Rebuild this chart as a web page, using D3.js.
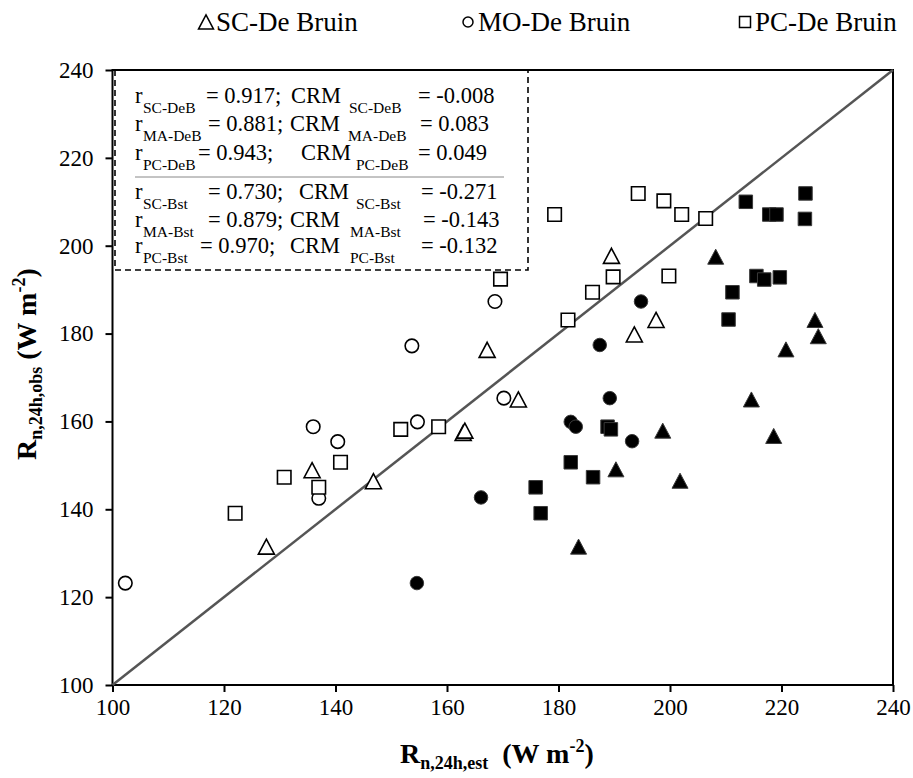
<!DOCTYPE html>
<html>
<head>
<meta charset="utf-8">
<script src="https://cdn.jsdelivr.net/npm/d3@7"></script>
<style>
  html, body { margin: 0; padding: 0; background: #fff; }
  svg { display: block; }
  text { font-family: "Liberation Serif", "Times New Roman", serif; fill: #000; }
  .tick text { font-size: 23px; }
  .tick line { stroke: #000; stroke-width: 2px; }
  .domain { display: none; }
</style>
</head>
<body>
<svg id="chart" width="913" height="778"></svg>
<script>
var scDeB = [[127.6,131.5],[135.8,148.9],[146.8,146.4],[162.9,157.4],[163.2,157.9],
             [167.2,176.3],[172.8,165.0],[189.5,197.7],[193.6,179.8],[197.5,183.1]];
var scBst = [[183.6,131.5],[190.3,149.1],[198.7,157.9],[201.8,146.5],[208.2,197.5],
             [214.6,165.0],[218.6,156.7],[220.8,176.4],[226.0,183.1],[226.6,179.4]];
var moDeB = [[102.3,123.2],[136.0,158.8],[137.0,142.5],[140.4,155.4],[153.7,177.2],
             [154.7,159.9],[168.6,187.3],[170.2,165.3]];
var moBst = [[154.6,123.2],[166.1,142.7],[182.2,159.9],[183.1,158.8],[187.4,177.4],
             [189.2,165.3],[193.2,155.5],[194.8,187.3]];
var pcDeB = [[122.0,139.1],[130.8,147.3],[137.0,145.0],[140.9,150.7],[151.7,158.2],
             [158.5,158.8],[169.6,192.4],[179.3,207.1],[181.7,183.1],[186.1,189.4],
             [189.8,192.9],[194.3,211.9],[198.9,210.2],[199.8,193.1],[202.1,207.1],[206.4,206.2]];
var pcBst = [[175.9,145.0],[176.8,139.1],[182.2,150.7],[186.2,147.3],[188.8,158.8],
             [189.4,158.2],[210.5,183.2],[211.2,189.4],[213.6,210.0],[215.5,193.1],
             [216.9,192.3],[217.8,207.1],[219.1,207.1],[219.7,192.8],[224.2,206.1],[224.3,211.9]];

var ticks = [100, 120, 140, 160, 180, 200, 220, 240];
var legendNames = ["SC-De Bruin", "MO-De Bruin", "PC-De Bruin"];

var rSubs = ["SC-DeB", "MA-DeB", "PC-DeB", "SC-Bst", "MA-Bst", "PC-Bst"];
var rVals = ["0.917", "0.881", "0.943", "0.730", "0.879", "0.970"];
var crmVals = ["-0.008", "0.083", "0.049", "-0.271", "-0.143", "-0.132"];

var svg = d3.select("#chart");

var x = d3.scaleLinear().domain([100, 240]).range([112.5, 893]);
var y = d3.scaleLinear().domain([100, 240]).range([685, 70]);

// axes
var xAxis = svg.append("g")
    .attr("transform", "translate(0,685)")
    .call(d3.axisBottom(x).tickValues(ticks).tickSize(7).tickPadding(5));
xAxis.attr("font-family", null);
xAxis.selectAll("text").attr("dy", "0.8em");

var yAxis = svg.append("g")
    .attr("transform", "translate(112.5,0)")
    .call(d3.axisLeft(y).tickValues(ticks).tickSize(7).tickPadding(12));
yAxis.attr("font-family", null);

// frame
svg.append("rect")
    .attr("x", x(100)).attr("y", y(240))
    .attr("width", x(240) - x(100)).attr("height", y(100) - y(240))
    .attr("fill", "none").attr("stroke", "#000").attr("stroke-width", 2);

// 1:1 line
svg.append("line")
    .attr("x1", x(100)).attr("y1", y(100))
    .attr("x2", x(240)).attr("y2", y(240))
    .attr("stroke", "#555").attr("stroke-width", 2.5);

// marker shapes
function triPath(s) { return "M0," + (-s * 0.47) + "L" + (s * 0.5) + "," + (s * 0.47) + "L" + (-s * 0.5) + "," + (s * 0.47) + "Z"; }
function sqPath(s) { var h = s / 2; return "M" + -h + "," + -h + "H" + h + "V" + h + "H" + -h + "Z"; }
function circPath(s) { var r = s / 2; return "M" + r + ",0A" + r + "," + r + " 0 1,1 " + -r + ",0A" + r + "," + r + " 0 1,1 " + r + ",0Z"; }

function plot(data, shape, size, filled) {
    svg.append("g").selectAll("path")
        .data(data)
        .enter().append("path")
        .attr("d", shape(size))
        .attr("transform", function (d) { return "translate(" + x(d[0]) + "," + y(d[1]) + ")"; })
        .attr("fill", filled ? "#000" : "#fff")
        .attr("stroke", filled ? "#3a3a3a" : "#000")
        .attr("stroke-width", filled ? 1 : 1.6);
}

plot(scDeB, triPath, 16, false);
plot(moDeB, circPath, 13.5, false);
plot(pcDeB, sqPath, 13.5, false);
plot(scBst, triPath, 16, true);
plot(moBst, circPath, 13.5, true);
plot(pcBst, sqPath, 13.5, true);

// statistics box
svg.append("rect")
    .attr("x", 115).attr("y", 70).attr("width", 413).attr("height", 200)
    .attr("fill", "none").attr("stroke", "#000").attr("stroke-width", 1.6)
    .attr("stroke-dasharray", "6,4");

svg.append("line")
    .attr("x1", 135).attr("x2", 504).attr("y1", 177).attr("y2", 177)
    .attr("stroke", "#888").attr("stroke-width", 1);

var lineY = [103, 130.5, 160, 199, 226.5, 253];
var eqX = [206, 208, 198, 208, 208, 200];
var crmX = [291, 290, 301, 299, 290, 290];
var crmSubX = [349, 348, 356, 356, 350, 350];
var eq2X = [418, 420, 418, 421, 423, 421];

var stats = svg.append("g").attr("font-size", 22.5);
rSubs.forEach(function (sub, i) {
    var by = lineY[i];
    stats.append("text").attr("x", 135).attr("y", by).text("r");
    stats.append("text").attr("x", 143).attr("y", by + 10).attr("font-size", 15.5).text(sub);
    stats.append("text").attr("x", eqX[i]).attr("y", by).text("= " + rVals[i] + ";");
    stats.append("text").attr("x", crmX[i]).attr("y", by).text("CRM");
    stats.append("text").attr("x", crmSubX[i]).attr("y", by + 10).attr("font-size", 15.5).text(sub);
    stats.append("text").attr("x", eq2X[i]).attr("y", by).text("= " + crmVals[i]);
});

// legend
var legX = [206, 468, 745];
var legShapes = [triPath, circPath, sqPath];
var legSizes = [15, 10, 11];
legendNames.forEach(function (name, i) {
    svg.append("path")
        .attr("d", legShapes[i](legSizes[i]))
        .attr("transform", "translate(" + legX[i] + ",22)")
        .attr("fill", "#fff").attr("stroke", "#000").attr("stroke-width", 1.5);
    svg.append("text")
        .attr("x", legX[i] + 10).attr("y", 31)
        .attr("font-size", 27)
        .text(name);
});

// axis titles
var xt = svg.append("text")
    .attr("x", 400).attr("y", 763)
    .attr("font-size", 28).attr("font-weight", "bold");
xt.append("tspan").text("R");
xt.append("tspan").attr("font-size", 18).attr("dy", 6).text("n,24h,est");
xt.append("tspan").attr("dy", -6).text("\u00a0 (W m");
xt.append("tspan").attr("font-size", 18).attr("dy", -11).text("-2");
xt.append("tspan").attr("dy", 11).text(")");

var yt = svg.append("text")
    .attr("transform", "translate(36,460) rotate(-90)")
    .attr("font-size", 28).attr("font-weight", "bold");
yt.append("tspan").text("R");
yt.append("tspan").attr("font-size", 18).attr("dy", 6).text("n,24h,obs");
yt.append("tspan").attr("dy", -6).text("\u00a0(W m");
yt.append("tspan").attr("font-size", 18).attr("dy", -11).text("-2");
yt.append("tspan").attr("dy", 11).text(")");
</script>
</body>
</html>
